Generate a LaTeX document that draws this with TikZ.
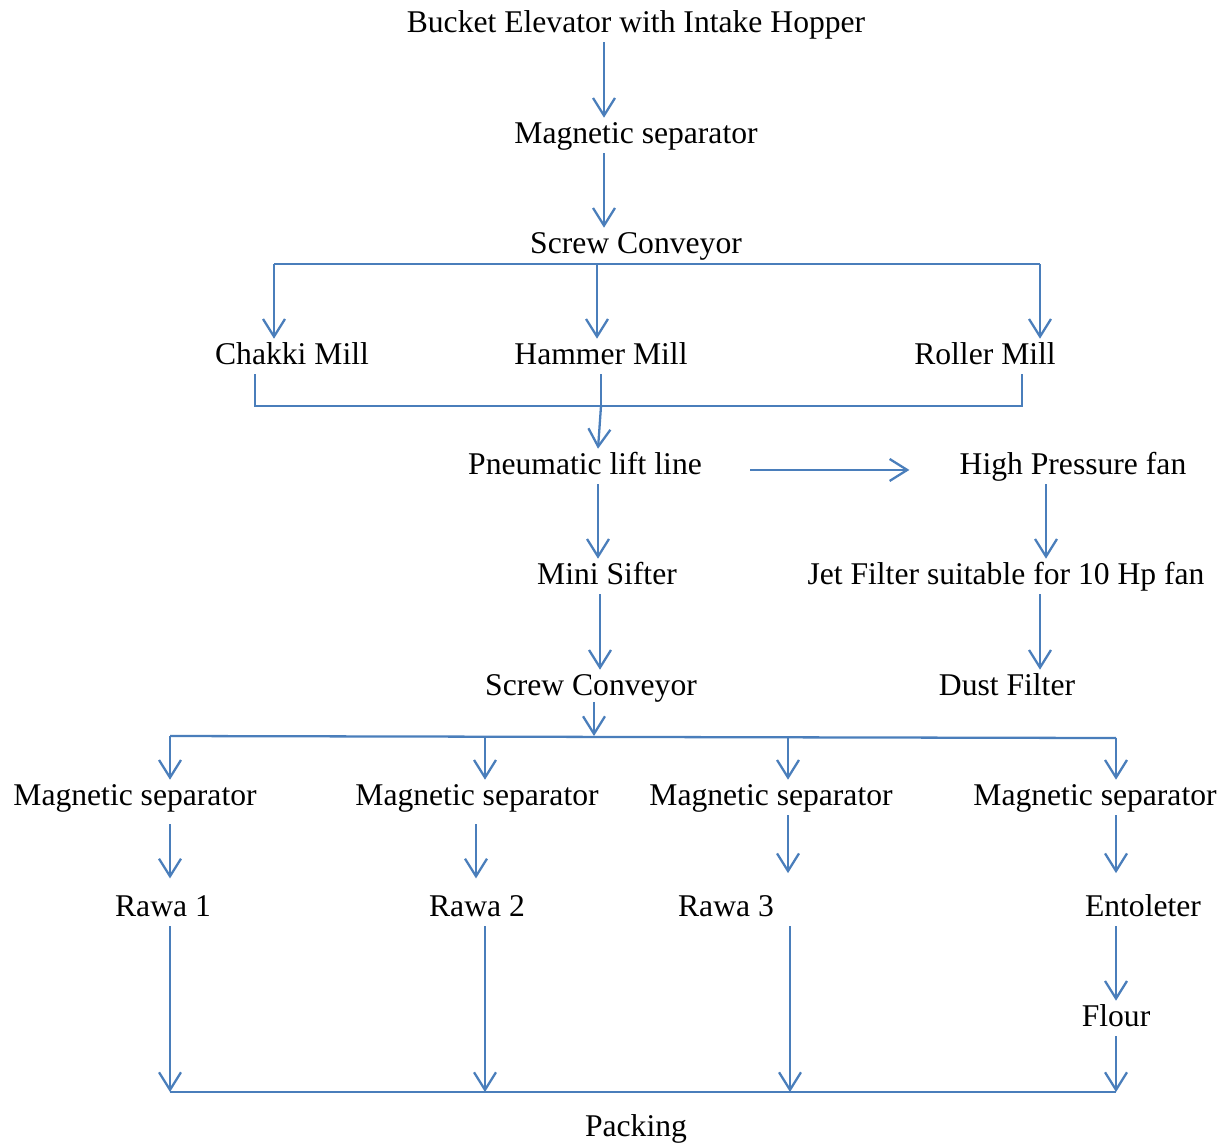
\documentclass[tikz,border=0pt]{standalone}
\usepackage{fontspec}
\setmainfont{Liberation Serif}
\usepackage{xcolor}
\usetikzlibrary{arrows.meta}
\definecolor{flowblue}{HTML}{4A7EBB}

\tikzset{
	lbl/.style={anchor=base, inner xsep=0pt, inner ysep=1.7pt, text height=12.5pt, text depth=4pt, font=\fontsize{18}{21}\selectfont},
	pipe/.style={draw=flowblue, line width=1.3pt},
	flow/.style={pipe, -{Straight Barb[length=10pt,width=12.5pt,line width=1.3pt]}},
	gap/.style={shorten <=5pt, shorten >=7pt}
}

\begin{document}
\begin{tikzpicture}[x=0.02cm, y=-0.02cm]
	\useasboundingbox (0,0) rectangle (1226,1144);
	% process steps
	\node [lbl] (bucket) at (636,32) {Bucket Elevator with Intake Hopper};
	\node [lbl] (magsep) at (636,143) {Magnetic separator};
	\node [lbl] (screwA) at (636,253) {Screw Conveyor};
	\node [lbl] (chakki) at (292,364) {Chakki Mill};
	\node [lbl] (hammer) at (601,364) {Hammer Mill};
	\node [lbl] (roller) at (985,364) {Roller Mill};
	\node [lbl] (pneu) at (585,474) {Pneumatic lift line};
	\node [lbl] (hpfan) at (1073,474) {High Pressure fan};
	\node [lbl] (sifter) at (607,584) {Mini Sifter};
	\node [lbl] (jet) at (1006,584) {Jet Filter suitable for 10 Hp fan};
	\node [lbl] (screwB) at (591,695) {Screw Conveyor};
	\node [lbl] (dust) at (1007,695) {Dust Filter};
	\node [lbl] (msA) at (135,805) {Magnetic separator};
	\node [lbl] (msB) at (477,805) {Magnetic separator};
	\node [lbl] (msC) at (771,805) {Magnetic separator};
	\node [lbl] (msD) at (1095,805) {Magnetic separator};
	\node [lbl] (rawaA) at (163,916) {Rawa 1};
	\node [lbl] (rawaB) at (477,916) {Rawa 2};
	\node [lbl] (rawaC) at (726,916) {Rawa 3};
	\node [lbl] (ento) at (1143,916) {Entoleter};
	\node [lbl] (flour) at (1116,1026) {Flour};
	\node [lbl] (packing) at (636,1136) {Packing};
	%
	% columns and bus points
	\coordinate (colT) at (604,0);
	\coordinate (colP) at (598,0);
	\coordinate (colS) at (600,0);
	\coordinate (colH) at (1046,0);
	\coordinate (colJ) at (1040,0);
	\coordinate (colM) at (476,0);
	\coordinate (busL) at (274,264);
	\coordinate (busM) at (597,264);
	\coordinate (busR) at (1040,264);
	\coordinate (milL) at (255,406);
	\coordinate (milM) at (601,406);
	\coordinate (milR) at (1022,406);
	\coordinate (outQ) at (594,736);
	\coordinate (out1) at (170,736);
	\coordinate (out2) at (485,736);
	\coordinate (out3) at (788,737);
	\coordinate (out4) at (1116,738);
	\coordinate (pk1) at (170,1092);
	\coordinate (pk2) at (485,1092);
	\coordinate (pk3) at (790,1092);
	\coordinate (pk4) at (1116,1092);
	%
	\draw [flow] (bucket.south -| colT) -- (magsep.north -| colT);
	\draw [flow] (magsep.south -| colT) -- (screwA.north -| colT);
	\draw [pipe] (busL) -- (busR);
	\draw [flow] (busL) -- (busL |- chakki.north);
	\draw [flow] (busM) -- (busM |- hammer.north);
	\draw [flow] (busR) -- (busR |- roller.north);
	\draw [pipe] (milL |- chakki.south) -- (milL) -- (milR) -- (milR |- roller.south);
	\draw [pipe] (hammer.south) -- (milM);
	\draw [flow] (milM) -- (pneu.north -| colP);
	\draw [flow] ([xshift=0.96cm]pneu.mid east) -- ([xshift=-1cm]hpfan.mid west);
	\draw [flow] (hpfan.south -| colH) -- (jet.north -| colH);
	\draw [flow] (jet.south -| colJ) -- (dust.north -| colJ);
	\draw [flow] (pneu.south -| colP) -- (sifter.north -| colP);
	\draw [flow] (sifter.south -| colS) -- (screwB.north -| colS);
	\draw [flow] ([yshift=2pt]screwB.south -| outQ) -- (outQ);
	\draw [pipe] (out1) -- (out4);
	\draw [flow] (out1) -- (out1 |- msA.north);
	\draw [flow] (out2) -- (out2 |- msB.north);
	\draw [flow] (out3) -- (out3 |- msC.north);
	\draw [flow] (out4) -- (out4 |- msD.north);
	\draw [flow, gap] (msA.south -| out1) -- (rawaA.north -| out1);
	\draw [flow, gap] (msB.south -| colM) -- (rawaB.north -| colM);
	\draw [flow, shorten >=10pt] (msC.south -| out3) -- (rawaC.north -| out3);
	\draw [flow, shorten >=10pt] (msD.south -| out4) -- (ento.north -| out4);
	\draw [flow] (rawaA.south -| pk1) -- (pk1);
	\draw [flow] (rawaB.south -| pk2) -- (pk2);
	\draw [flow] (rawaC.south -| pk3) -- (pk3);
	\draw [flow] (ento.south -| pk4) -- (flour.north -| pk4);
	\draw [flow] (flour.south -| pk4) -- (pk4);
	\draw [pipe] (pk1) -- (pk4);
\end{tikzpicture}
\end{document}
